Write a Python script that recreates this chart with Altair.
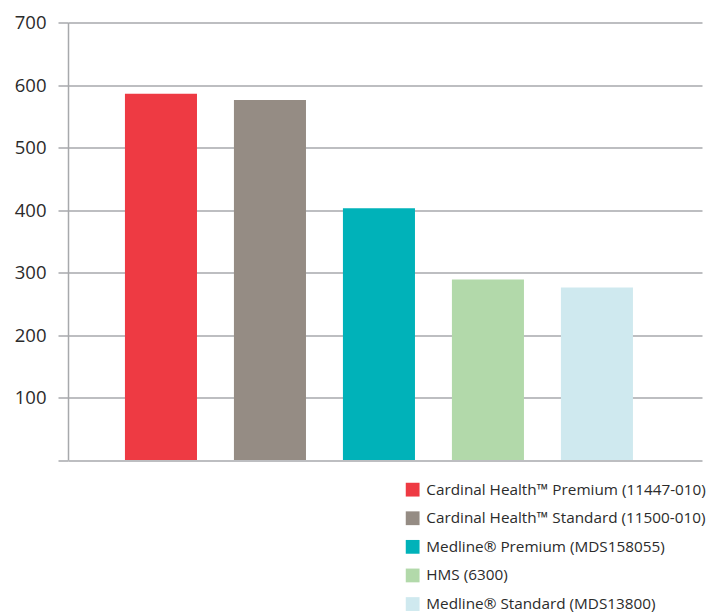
import altair as alt
import pandas as pd

products = [
    "Cardinal Health™ Premium (11447-010)",
    "Cardinal Health™ Standard (11500-010)",
    "Medline® Premium (MDS158055)",
    "HMS (6300)",
    "Medline® Standard (MDS13800)",
]
values = [586, 576, 403, 289, 276]
colors = ["#ee3a43", "#958c84", "#00b2b9", "#b2d9aa", "#cfe9ef"]
y_ticks = [0, 100, 200, 300, 400, 500, 600, 700]

df = pd.DataFrame({"product": products, "value": values})

GRID = "#a7a9ac"

chart = (
    alt.Chart(df)
    .mark_bar()
    .encode(
        x=alt.X(
            "product:N",
            sort=None,
            axis=None,
            scale=alt.Scale(paddingInner=0.339, paddingOuter=0.578, align=0.452),
        ),
        y=alt.Y(
            "value:Q",
            scale=alt.Scale(domain=[0, 700], nice=False),
            axis=alt.Axis(
                values=y_ticks,
                title=None,
                labelExpr="datum.value == 0 ? '' : datum.label",
                labelFont="Open Sans",
                labelFontSize=18.5,
                labelColor="#2b2b2b",
                labelPadding=12,
                tickSize=10,
                tickColor=GRID,
                tickWidth=1.5,
                domainColor=GRID,
                domainWidth=1.5,
                gridColor=GRID,
                gridWidth=1.5,
            ),
        ),
        color=alt.Color(
            "product:N",
            sort=None,
            scale=alt.Scale(domain=products, range=colors),
            legend=alt.Legend(
                title=None,
                orient="none",
                legendX=337,
                legendY=459.5,
                symbolType="square",
                symbolSize=190,
                symbolStrokeWidth=0,
                labelFont="Open Sans",
                labelFontSize=15.3,
                labelColor="#2b2b2b",
                labelOffset=6,
                labelLimit=500,
                rowPadding=12.6,
                padding=0,
            ),
        ),
    )
    .properties(
        width=634,
        height=437.5,
        autosize=alt.AutoSizeParams(type="none"),
        padding={"left": 60, "top": 14.5, "right": 8, "bottom": 152},
    )
    .configure_view(stroke=None)
)

chart.save("out.html", embed_options={"renderer": "svg", "actions": False})
